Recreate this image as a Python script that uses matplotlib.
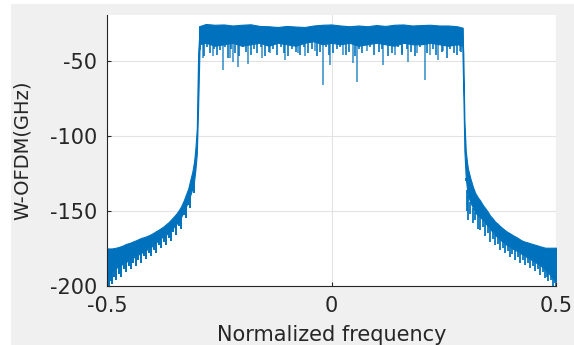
import numpy as np
import matplotlib.pyplot as plt
from matplotlib.patches import Rectangle

blue = '#0072BD'

# passband (dense part of the spectrum)
band_x = [-0.295, -0.28, -0.26, -0.24, -0.22, -0.20, -0.18, -0.16, -0.14, -0.12, -0.10,
          -0.08, -0.06, -0.04, -0.02, 0.0, 0.02, 0.04, 0.06, 0.08, 0.10, 0.12, 0.14,
          0.16, 0.18, 0.20, 0.22, 0.24, 0.26, 0.28, 0.292]
band_top = [-27, -25.5, -26, -25.8, -26.5, -26, -25.7, -26.8, -27, -27.5, -26.8,
            -27.2, -27.5, -26.5, -26, -25.8, -26.5, -27, -26.5, -27, -26.2, -26.8, -26,
            -25.8, -26.5, -26.2, -26, -26.5, -26.5, -27, -28]
band_low = [-39, -38, -40, -39, -38, -40, -39, -38, -40, -38, -39,
            -40, -38, -37, -39, -38, -39, -38, -40, -39, -38, -39, -40,
            -38, -39, -39, -38, -39, -40, -39, -40]

# deep dips in the passband
dip_x = [-0.2855, -0.2633, -0.2423, -0.2261, -0.220, -0.2076, -0.1853, -0.1555, -0.137,
         -0.1036, -0.074, -0.059, -0.0367, -0.0183, -0.0033, 0.0263, 0.0486, 0.0575,
         0.0784, 0.1154, 0.1414, 0.1564, 0.171, 0.1898, 0.2082, 0.2194, 0.2379, 0.249, 0.2862]
dip_y = [-48, -47, -56, -48, -50.5, -54, -52, -48, -44.7,
         -49.3, -44.7, -47, -43.8, -66, -52.7, -46, -51.5, -64,
         -43.8, -52.7, -46, -44.9, -50.5, -44.9, -62.7, -46, -49.3, -43.8, -43.8]

# small dips in the passband
sdip_x = [-0.292, -0.285, -0.278, -0.27, -0.262, -0.256, -0.248, -0.238, -0.231, -0.224,
          -0.215, -0.205, -0.198, -0.19, -0.18, -0.172, -0.165, -0.158, -0.148, -0.14,
          -0.13, -0.122, -0.112, -0.106, -0.096, -0.088, -0.08, -0.07, -0.062, -0.052,
          -0.044, -0.032, -0.025, -0.012, -0.006, 0.004, 0.012, 0.02, 0.032, 0.04,
          0.052, 0.062, 0.068, 0.085, 0.095, 0.105, 0.112, 0.125, 0.135, 0.148,
          0.158, 0.168, 0.176, 0.185, 0.198, 0.212, 0.225, 0.232, 0.245, 0.258,
          0.265, 0.272, 0.28, 0.288]
sdip_y = [-43, -47, -41, -45, -42, -46, -43, -41, -48, -42,
          -45, -47, -41, -44, -46, -42, -45, -41, -47, -44,
          -42, -46, -41, -45, -47, -42, -44, -46, -41, -45,
          -42, -47, -44, -41, -46, -45, -42, -41, -46, -44,
          -47, -42, -45, -41, -46, -44, -42, -47, -45, -41,
          -46, -42, -44, -47, -41, -45, -42, -46, -44, -48,
          -42, -45, -46, -44]

# left skirt: top, core bottom, tooth tip
lx = [-0.500, -0.498, -0.496, -0.492, -0.489, -0.484, -0.480, -0.474, -0.469, -0.463,
      -0.458, -0.452, -0.447, -0.441, -0.435, -0.430, -0.424, -0.418, -0.413, -0.407,
      -0.402, -0.396, -0.391, -0.385, -0.380, -0.374, -0.369, -0.363, -0.358, -0.352,
      -0.346, -0.340, -0.335, -0.329, -0.324, -0.319, -0.315, -0.310, -0.306, -0.303,
      -0.300, -0.297, -0.2935]
l_top = [-175, -175, -175, -175, -175, -174.7, -174.5, -174, -173.5, -172.8,
         -172, -171.5, -171, -170.2, -169.5, -168.8, -168, -167.5, -167, -166.2,
         -165.5, -164.5, -163.5, -162.5, -161.5, -160.3, -159, -157.5, -156, -154,
         -152, -149.5, -147, -143, -139, -135, -130, -124, -117, -108,
         -95, -45, -28]
l_core = [-197, -196, -195, -192, -190, -189, -188, -187, -186, -185,
          -184, -183, -182, -181, -180, -179, -178, -177, -176, -175,
          -174, -172.5, -171, -169.5, -168, -167, -166, -164.5, -163, -161,
          -159, -156.5, -154, -150.5, -147, -143.5, -140, -135, -130, -122,
          -112, -80, -36]
l_tip = [-200, -200, -200, -197, -199, -194, -196, -192, -194, -189,
         -191, -187, -189, -185, -187, -183, -185, -180, -182, -178,
         -180, -176, -178, -173, -175, -171, -173, -168, -170, -164,
         -166, -160, -162, -153, -155, -146, -148, -137, -138, -124,
         -112, -80, -36]

# right skirt
rx = [0.291, 0.2935, 0.296, 0.299, 0.302, 0.304, 0.309, 0.315, 0.320, 0.326,
      0.331, 0.337, 0.342, 0.348, 0.353, 0.359, 0.364, 0.370, 0.375, 0.381,
      0.387, 0.392, 0.398, 0.403, 0.409, 0.415, 0.420, 0.426, 0.431, 0.437,
      0.442, 0.448, 0.453, 0.459, 0.464, 0.470, 0.476, 0.479, 0.482, 0.488,
      0.493, 0.497, 0.500]
r_top = [-28, -45, -90, -110, -118, -122, -128, -134, -138, -141,
         -143, -146, -148, -150.5, -153, -155, -157, -158.5, -160, -161.5,
         -163, -164, -165, -166, -167, -168, -169, -170, -170.5, -171,
         -171.5, -172, -172.5, -173, -173.5, -174, -174.5, -174.5, -174.5, -174.5,
         -174.5, -174.5, -174.5]
r_core = [-36, -70, -110, -128, -136, -140, -144, -148, -151, -153,
          -154, -156, -158, -160, -162, -164, -166, -167.5, -169, -170.5,
          -172, -173, -174, -175, -176, -177, -178, -179, -180, -181,
          -182, -183, -184, -185, -186, -187.5, -189, -190, -191, -193,
          -195, -196, -197]
r_tip = [-36, -70, -110, -130, -150, -156, -152, -158, -156, -162,
         -163, -161, -167, -165, -171, -169, -173, -172, -176, -175,
         -178, -177, -180.5, -179, -182.5, -181, -184.7, -183, -186, -185,
         -188, -187, -190, -189, -192.7, -191, -195, -194, -197, -196,
         -200, -198, -200]

fig = plt.figure(figsize=(5.74, 3.45), dpi=100, facecolor='white')
fig.patches.append(Rectangle((11/574, 0), 1 - 11/574, 341/345, transform=fig.transFigure,
                             facecolor='#f0f0f0', edgecolor='none', zorder=-10))
ax = fig.add_axes([107/574, 59/345, 449/574, 271/345])
ax.set_facecolor('white')

ax.fill_between(band_x, band_low, band_top, color=blue, lw=0.8)
ax.vlines(dip_x, dip_y, -33, color=blue, lw=1.2, alpha=0.75)
ax.vlines(sdip_x, sdip_y, -33, color=blue, lw=1.3, alpha=0.9)
ax.fill_between(lx, l_core, l_top, color=blue, lw=0.8)
ax.vlines(lx, l_tip, l_core, color=blue, lw=1.4)
ax.fill_between(rx, r_core, r_top, color=blue, lw=0.8)
ax.vlines(rx, r_tip, r_core, color=blue, lw=1.4, alpha=0.9)

ax.set_xlim(-0.5, 0.5)
ax.set_ylim(-200, -19.5)
ax.set_xticks([-0.5, 0, 0.5])
ax.set_xticklabels(['-0.5', '0', '0.5'])
ax.set_yticks([-200, -150, -100, -50])
ax.set_yticklabels(['-200', '-150', '-100', '-50'])
ax.grid(True, color='#e3e3e3', lw=0.8)
ax.set_axisbelow(True)
for s in ['top', 'right']:
    ax.spines[s].set_visible(False)
for s in ['left', 'bottom']:
    ax.spines[s].set_color('#262626')
    ax.spines[s].set_linewidth(0.8)
ax.tick_params(direction='in', length=3, width=0.8, colors='#262626', labelsize=15, pad=7)
for lab in ax.get_xticklabels() + ax.get_yticklabels():
    lab.set_family('DejaVu Sans')
ax.set_xlabel('Normalized frequency', fontsize=15, color='#262626', family='DejaVu Sans', labelpad=7)
ax.set_ylabel('W-OFDM(GHz)', fontsize=14, color='#262626', family='DejaVu Sans', labelpad=13)

plt.savefig('out.png', dpi=100)
